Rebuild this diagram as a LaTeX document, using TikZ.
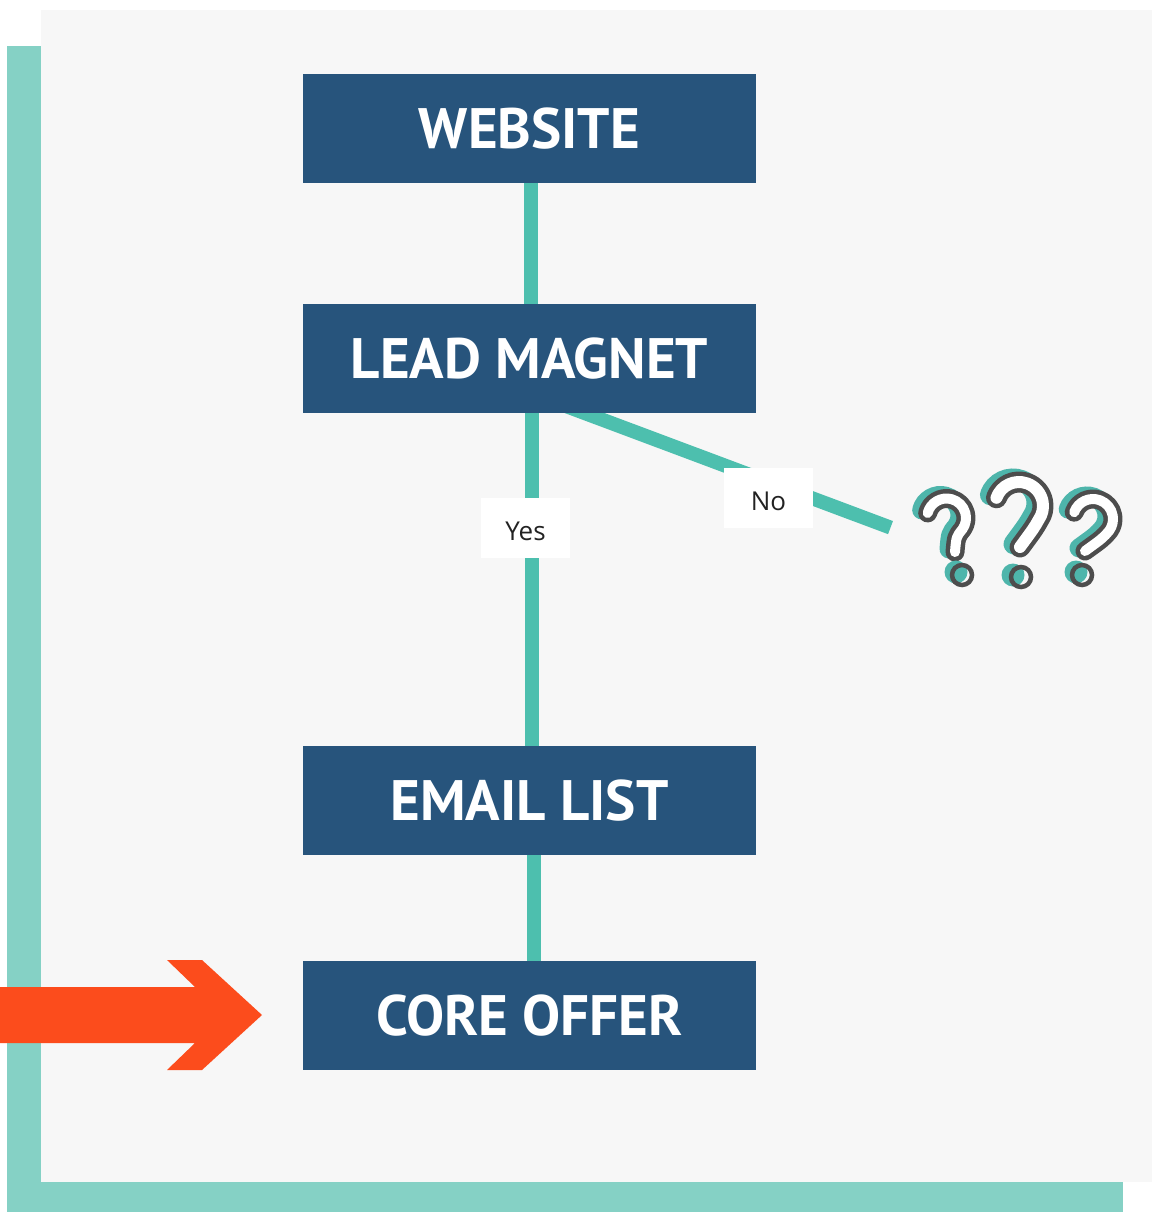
\documentclass[tikz,border=0pt]{standalone}
\usepackage{fontspec}
\setmainfont{PT Sans}
\newfontfamily\labfont{Open Sans}
\definecolor{boxblue}{HTML}{27547C}
\definecolor{linkteal}{HTML}{4DBFAE}
\definecolor{frameteal}{HTML}{85D1C5}
\definecolor{bggray}{HTML}{F7F7F7}
\definecolor{arroworange}{HTML}{FC4C1C}
\definecolor{labtext}{HTML}{222222}
\definecolor{qteal}{HTML}{4EB5AB}
\definecolor{qgray}{HTML}{4D4D4D}
\pgfdeclarelayer{bglayer}
\pgfdeclarelayer{linelayer}
\pgfsetlayers{bglayer,linelayer,main}
\newcommand\qhook[7]{% center, radius, start, end, control, stem end, total width
  \draw[qteal, line width=#7pt, line cap=round, shift={(-6,-3)}]
    (#1) ++(#3:#2) arc[start angle=#3, end angle=#4, radius=#2] .. controls (#5) .. (#6);
  \draw[qgray, line width=4.5pt, double=white, double distance=#7pt-9pt, line cap=round, line join=round]
    (#1) ++(#3:#2) arc[start angle=#3, end angle=#4, radius=#2] .. controls (#5) .. (#6);
}
\newcommand\qdot[3]{% gray center, teal center, ring radius
  \fill[qteal] (#2) circle[radius=#3+1.5];
  \draw[qgray, line width=4.5pt] (#1) circle[radius=#3];
}
\begin{document}
\begin{tikzpicture}[x=1pt,y=-1pt,
  box/.style={fill=boxblue, minimum width=453pt, minimum height=109pt, inner sep=0pt,
    text=white, font=\fontsize{57}{57}\selectfont\bfseries},
  conn/.style={draw=linkteal, line width=14pt},
  lab/.style={fill=white, minimum width=89pt, minimum height=60pt, inner sep=0pt,
    text height=24.5pt, text depth=0pt,
    text=labtext, font=\labfont\fontsize{26}{26}\selectfont},
]
\useasboundingbox (0,0) rectangle (1152,1212);
\begin{pgfonlayer}{bglayer}
\fill[white] (0,0) rectangle (1152,1212);
\fill[bggray] (41,10) rectangle (1152,1182);
\fill[frameteal] (7,46) rectangle (41,1212);
\fill[frameteal] (7,1182) rectangle (1123,1212);
\end{pgfonlayer}

\node[box] (web) at (529.5,128.5) {WEBSITE};
\node[box] (lm) at (529.5,358.5) {LEAD MAGNET};
\node[box] (email) at (529.5,800.5) {EMAIL LIST};
\node[box] (core) at (529.5,1015.5) {CORE OFFER};
\coordinate (noend) at (890.5,527.6);

\begin{pgfonlayer}{linelayer}
\draw[conn] ([xshift=1pt]web.center) -- ([xshift=1pt]lm.center);
\draw[conn] ([xshift=2.5pt]lm.center) -- ([xshift=2.5pt]email.center);
\draw[conn] ([xshift=4.5pt]email.center) -- ([xshift=4.5pt]core.center);
\draw[conn] ([xshift=23.5pt,yshift=12pt]lm.south) -- (noend);
\end{pgfonlayer}

\node[lab] (yes) at (525.5,528) {Yes};
\node[lab] (no) at (768.5,498) {No};

\fill[arroworange] (0,987) -- (195,987) -- (167,960) -- (202,960) -- (262,1015)
  -- (202,1070) -- (167,1070) -- (195,1043) -- (0,1043) -- cycle;

\qhook{946.5,518}{19.5}{195}{395}{956.3,536.7}{955,552}{19}
\qdot{962,575}{956,572}{10}
\qhook{1019,506}{24}{200}{395}{1034,528}{1020,547}{21}
\qdot{1021,577}{1013,575}{10}
\qhook{1093,519}{20}{200}{395}{1103,538}{1085,551}{19}
\qdot{1082,575}{1076,572}{10}
\end{tikzpicture}
\end{document}
